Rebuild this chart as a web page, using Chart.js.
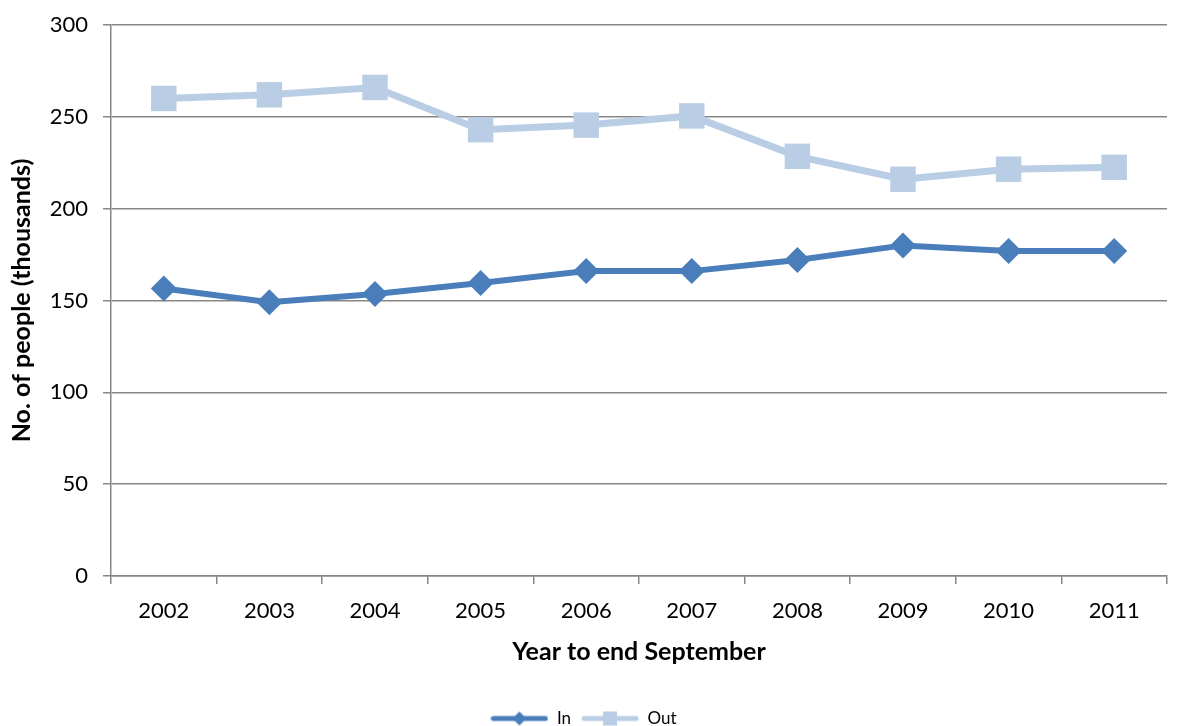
<!DOCTYPE html>
<html><head><meta charset="utf-8">
<script src="https://cdn.jsdelivr.net/npm/chart.js@4"></script>
<style>html,body{margin:0;padding:0;background:#fff}canvas{display:block}</style>
</head><body>
<canvas id="c" width="1181" height="726"></canvas>
<script>
const years = ['2002','2003','2004','2005','2006','2007','2008','2009','2010','2011'];
const inValues = [156.5, 149, 153.5, 159.5, 166, 166, 172, 180, 177, 177];
const outValues = [260, 262, 266, 243, 245.5, 250.5, 228.5, 216, 221.5, 222.5];
const yTicks = [0, 50, 100, 150, 200, 250, 300];

const IN_COLOR = '#4a7ebb';
const OUT_COLOR = '#b9cde5';
const GRID = '#868686';
const FONT = 'Lato, "Open Sans", sans-serif';

function legendIcon(color, shape) {
  const c = document.createElement('canvas');
  c.width = 58; c.height = 16;
  const g = c.getContext('2d');
  g.strokeStyle = color; g.lineWidth = 5; g.lineCap = 'round';
  g.beginPath(); g.moveTo(3, 8); g.lineTo(55, 8); g.stroke();
  g.fillStyle = color;
  if (shape === 'diamond') {
    g.beginPath(); g.moveTo(29, 1); g.lineTo(36, 8); g.lineTo(29, 15); g.lineTo(22, 8); g.closePath(); g.fill();
  } else {
    g.fillRect(22, 1, 14, 14);
  }
  return c;
}

new Chart(document.getElementById('c'), {
  type: 'line',
  data: {
    labels: years,
    datasets: [
      { label: 'In', data: inValues, borderColor: IN_COLOR, backgroundColor: IN_COLOR,
        borderWidth: 6, pointStyle: 'rectRot', pointRadius: 13, pointBorderWidth: 0,
        pointBackgroundColor: IN_COLOR, tension: 0 },
      { label: 'Out', data: outValues, borderColor: OUT_COLOR, backgroundColor: OUT_COLOR,
        borderWidth: 7, pointStyle: 'rect', pointRadius: 18, pointBorderWidth: 0,
        pointBackgroundColor: OUT_COLOR, tension: 0 }
    ]
  },
  options: {
    responsive: false,
    animation: false,
    layout: { autoPadding: false, padding: { left: 0, right: 14, top: 25, bottom: -11 } },
    plugins: {
      tooltip: { enabled: false },
      legend: {
        position: 'bottom',
        labels: {
          usePointStyle: true,
          pointStyleWidth: 58,
          font: { family: FONT, size: 17 },
          color: '#000',
          padding: 10,
          generateLabels: (chart) => chart.data.datasets.map((ds, i) => ({
            text: ds.label,
            pointStyle: legendIcon(ds.borderColor, i === 0 ? 'diamond' : 'square'),
            fillStyle: ds.borderColor, strokeStyle: ds.borderColor, lineWidth: 0,
            datasetIndex: i, hidden: false, fontColor: '#000'
          }))
        }
      }
    },
    scales: {
      x: {
        offset: true,
        grid: { display: true, offset: true, drawOnChartArea: false, drawTicks: true, tickLength: 8, color: GRID, lineWidth: 1.5 },
        border: { color: GRID, width: 1.5 },
        ticks: { color: '#000', font: { family: FONT, size: 22 }, padding: 14, maxRotation: 0 },
        title: { display: true, text: 'Year to end September', color: '#000',
          font: { family: FONT, size: 25, weight: 'bold' }, padding: { top: 8, bottom: 33 } },
        afterFit: (s) => { s.height = 124; s.paddingLeft = 0; s.paddingRight = 0; }
      },
      y: {
        min: 0, max: 300,
        afterBuildTicks: (s) => { s.ticks = yTicks.map(v => ({ value: v })); },
        grid: { color: GRID, lineWidth: 1.5, tickLength: 8 },
        border: { color: GRID, width: 1.5 },
        ticks: { color: '#000', font: { family: FONT, size: 22 }, padding: 15 },
        title: { display: true, text: 'No. of people (thousands)', color: '#000',
          font: { family: FONT, size: 25, weight: 'bold' }, padding: { top: 7, bottom: 10 } },
        afterFit: (s) => { s.width = 111; s.paddingTop = 0; s.paddingBottom = 0; }
      }
    }
  }
});
</script>
</body></html>
